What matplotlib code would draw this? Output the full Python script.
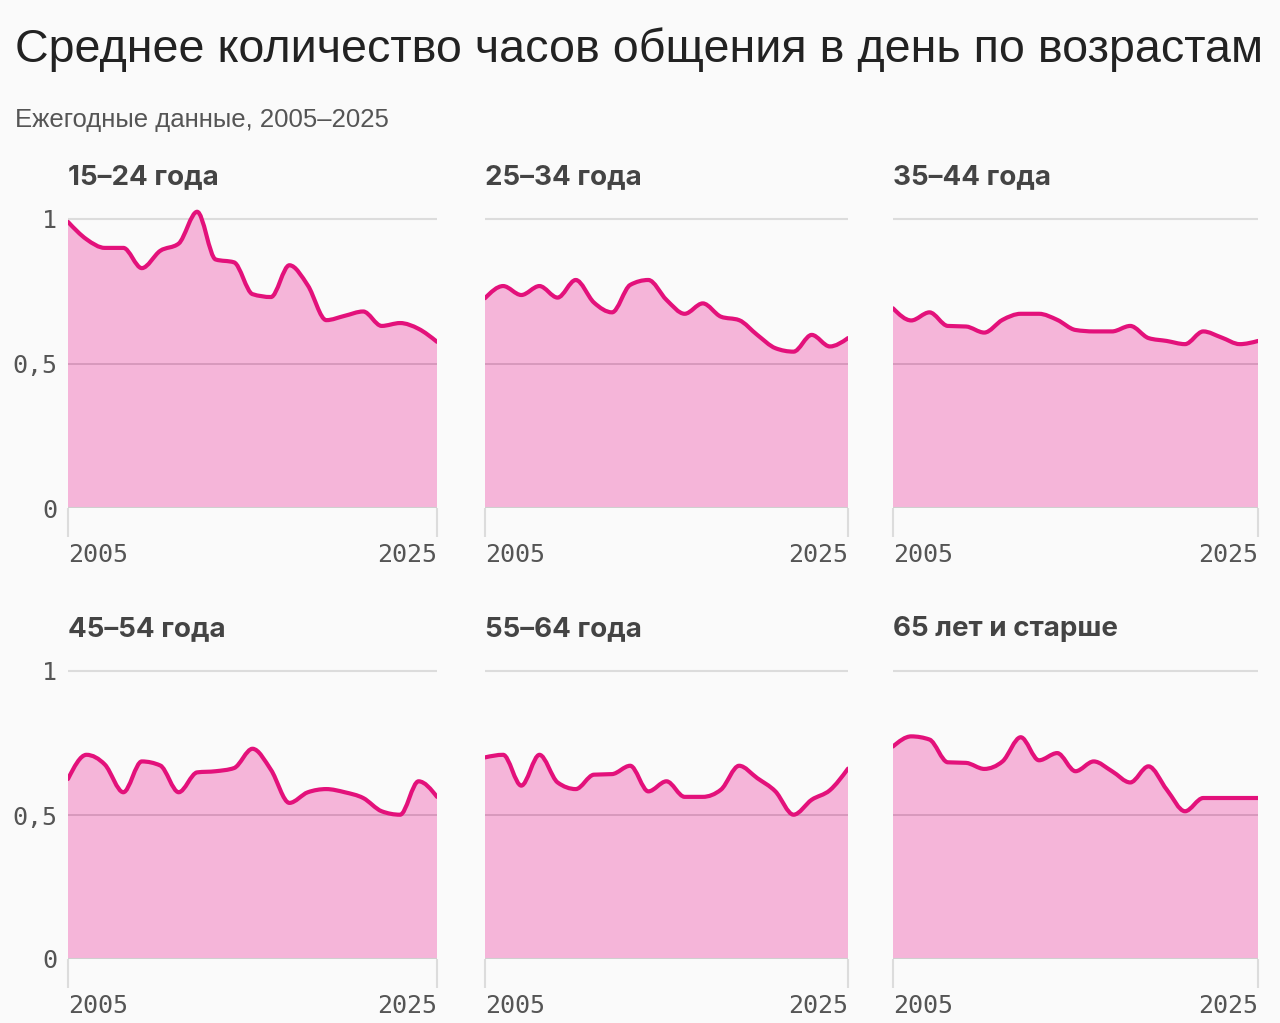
import matplotlib
matplotlib.use('Agg')

import numpy as np
import matplotlib.pyplot as plt
from matplotlib.path import Path
from matplotlib.patches import PathPatch

# Data: average hours of socialising per day, by age group
years = list(range(2005, 2026))

age_groups = ['15–24 года', '25–34 года', '35–44 года',
              '45–54 года', '55–64 года', '65 лет и старше']

hours_15_24 = [0.99, 0.93, 0.90, 0.90, 0.83, 0.89, 0.915, 1.025, 0.86, 0.85, 0.74,
               0.73, 0.84, 0.77, 0.65, 0.665, 0.68, 0.63, 0.64, 0.62, 0.575]
hours_25_34 = [0.726, 0.768, 0.737, 0.768, 0.728, 0.789, 0.711, 0.677, 0.772, 0.789, 0.72,
               0.672, 0.708, 0.662, 0.65, 0.599, 0.553, 0.541, 0.599, 0.559, 0.588]
hours_35_44 = [0.691, 0.649, 0.677, 0.630, 0.628, 0.607, 0.651, 0.672, 0.672, 0.651, 0.616,
               0.611, 0.611, 0.630, 0.588, 0.578, 0.567, 0.611, 0.590, 0.567, 0.578]
hours_45_54 = [0.625, 0.709, 0.675, 0.579, 0.686, 0.672, 0.579, 0.648, 0.652, 0.663, 0.730,
               0.657, 0.542, 0.579, 0.590, 0.579, 0.559, 0.513, 0.501, 0.617, 0.563]
hours_55_64 = [0.700, 0.709, 0.602, 0.709, 0.613, 0.590, 0.640, 0.642, 0.671, 0.582, 0.617,
               0.563, 0.563, 0.588, 0.671, 0.628, 0.582, 0.501, 0.553, 0.586, 0.661]
hours_65_plus = [0.738, 0.773, 0.762, 0.683, 0.681, 0.660, 0.686, 0.770, 0.690, 0.715, 0.652,
                 0.686, 0.652, 0.613, 0.669, 0.588, 0.513, 0.559, 0.559, 0.559, 0.559]

series = [hours_15_24, hours_25_34, hours_35_44, hours_45_54, hours_55_64, hours_65_plus]

y_ticks = [0, 0.5, 1]
y_tick_labels = ['0', '0,5', '1']
x_ticks = [2005, 2025]

colors = {
    'background': '#fafafa',
    'line': '#e3117b',
    'fill': '#f5b5d9',
    'grid': '#dcdcdc',
    'mid_grid': '#d394b8',
    'title': '#222222',
    'subtitle': '#555555',
    'panel_title': '#444444',
    'tick': '#555555',
}

TITLE_FONT = ['Liberation Sans', 'DejaVu Sans']
BOLD_FONT = ['Inter', 'Roboto', 'DejaVu Sans']
MONO_FONT = ['DejaVu Sans Mono']


def monotone_path(x, y, baseline=None):
    """Smooth monotone-x cubic through the points (like d3.curveMonotoneX)."""
    x = np.asarray(x, float)
    y = np.asarray(y, float)
    h = np.diff(x)
    s = np.diff(y) / h
    n = len(x)
    t = np.zeros(n)
    for i in range(1, n - 1):
        if s[i - 1] * s[i] <= 0:
            t[i] = 0
        else:
            p = (s[i - 1] * h[i] + s[i] * h[i - 1]) / (h[i - 1] + h[i])
            t[i] = (np.sign(s[i - 1]) + np.sign(s[i])) * min(abs(s[i - 1]), abs(s[i]), 0.5 * abs(p))
    t[0] = (3 * s[0] - t[1]) / 2
    t[-1] = (3 * s[-1] - t[-2]) / 2
    verts = [(x[0], y[0])]
    codes = [Path.MOVETO]
    for i in range(n - 1):
        dx = h[i] / 3
        verts += [(x[i] + dx, y[i] + t[i] * dx),
                  (x[i + 1] - dx, y[i + 1] - t[i + 1] * dx),
                  (x[i + 1], y[i + 1])]
        codes += [Path.CURVE4] * 3
    if baseline is not None:
        verts += [(x[-1], baseline), (x[0], baseline), (x[0], y[0])]
        codes += [Path.LINETO, Path.LINETO, Path.CLOSEPOLY]
    return Path(verts, codes)


fig = plt.figure(figsize=(12.8, 10.23), dpi=100, facecolor=colors['background'])

col_lefts = [68, 485, 893]
col_widths = [369, 363, 365]
row_bottoms = [508, 959]
row_heights = [289, 288]
y_max = 1.1
W, H = 1280, 1023

for idx, (name, values) in enumerate(zip(age_groups, series)):
    r, c = divmod(idx, 3)
    left = col_lefts[c] / W
    width = col_widths[c] / W
    bottom = (H - row_bottoms[r]) / H
    height = row_heights[r] * y_max / H
    ax = fig.add_axes([left, bottom, width, height])
    ax.set_facecolor('none')

    ax.set_xlim(years[0], years[-1])
    ax.set_ylim(0, y_max)

    # gridlines
    ax.axhline(1, color=colors['grid'], linewidth=1.5, zorder=1)
    ax.axhline(0, color='#cfcfcf', linewidth=1.5, zorder=4)

    fill = PathPatch(monotone_path(years, values, baseline=0),
                     facecolor=colors['fill'], edgecolor='none', zorder=2)
    ax.add_patch(fill)
    ax.axhline(0.5, color=colors['mid_grid'], linewidth=1.2, zorder=3)
    line = PathPatch(monotone_path(years, values), facecolor='none',
                     edgecolor=colors['line'], linewidth=3, capstyle='round',
                     joinstyle='round', zorder=5)
    ax.add_patch(line)

    for spine in ax.spines.values():
        spine.set_visible(False)

    ax.set_xticks(x_ticks)
    ax.set_xticklabels([str(v) for v in x_ticks], fontfamily=MONO_FONT,
                       fontsize=18, color=colors['tick'])
    labels = ax.get_xticklabels()
    labels[0].set_ha('left')
    labels[1].set_ha('right')
    ax.tick_params(axis='x', length=21, width=1.5, color=colors['grid'], pad=4)

    ax.set_yticks(y_ticks)
    if c == 0:
        ax.set_yticklabels(y_tick_labels, fontfamily=MONO_FONT,
                           fontsize=18, color=colors['tick'])
    else:
        ax.set_yticklabels([])
    ax.tick_params(axis='y', length=0, pad=8)

    ax.text(0, 1.0, name, transform=ax.transAxes, fontfamily=BOLD_FONT,
            fontweight='bold', fontsize=20, color=colors['panel_title'],
            ha='left', va='bottom')

title = fig.text(15 / W, 1 - 50 / H,
                 'Среднее количество часов общения в день по возрастам',
                 fontfamily=TITLE_FONT, fontsize=40, color=colors['title'],
                 ha='left', va='center')
# shrink the title so it spans the same width as in the original
renderer = fig.canvas.get_renderer()
tw = title.get_window_extent(renderer).width
title.set_fontsize(40 * 1247 / tw)

fig.text(15 / W, 1 - 120 / H, 'Ежегодные данные, 2005–2025',
         fontfamily=TITLE_FONT, fontsize=18.5, color=colors['subtitle'],
         ha='left', va='center')

fig.savefig('out.png', dpi=100, facecolor=colors['background'])
plt.close(fig)
